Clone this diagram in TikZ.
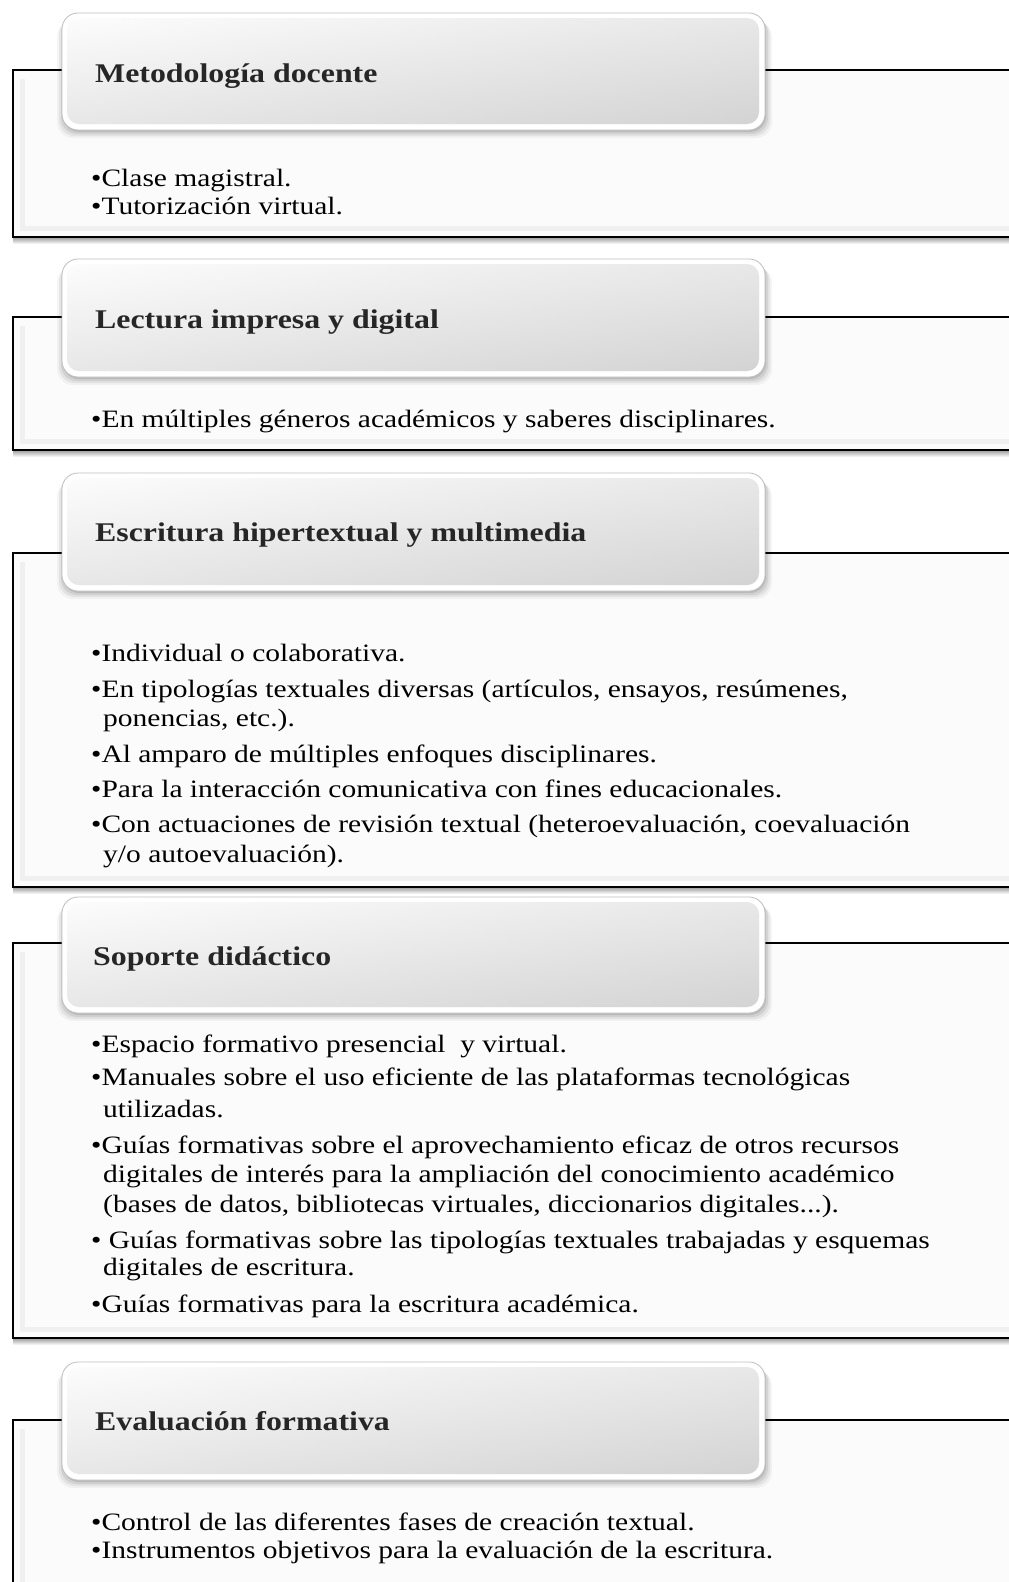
\documentclass[tikz,border=0pt]{standalone}
\usepackage{fontspec}
\setmainfont{Liberation Serif}[FakeStretch=1.18]
\newcommand\mypanel[6]{%
  % #1 panel top, #2 panel bottom, #3 header top, #4 header bottom, #5 name, #6 title baseline
  \fill[gray!3] (13,#1) rectangle (1040,#2);
  \draw[gray!12,line width=5pt] (22,#1+9) -- (22,#2-9) -- (1040,#2-9);
  \shade[top color=black!40,bottom color=white] (13,#2) rectangle (1040,#2+7);
  \draw[line width=2.2pt,line cap=rect] (1040,#1) -- (13,#1) -- (13,#2) -- (1040,#2);
  \foreach \k/\o in {1/0.10,3/0.08,5/0.06,7/0.04}{%
    \fill[black,opacity=\o,rounded corners=16pt] (62-\k+2,#3+\k+1) rectangle (765+\k,#4+\k+1);}
  \draw[gray!50,fill=white,rounded corners=16pt,line width=0.8pt] (62,#3) rectangle (765,#4);
  \shade[rounded corners=12pt,top color=gray!3,bottom color=gray!28] (67,#3+5) rectangle (759,#4-6);
  \shade[rounded corners=12pt,left color=white,right color=gray!45,opacity=0.35] (67,#3+5) rectangle (759,#4-6);
}
\begin{document}
\begin{tikzpicture}[x=1pt,y=-1pt,
  htext/.style={anchor=base west,inner sep=0pt,font=\fontsize{27}{31}\selectfont\bfseries,text=black!85},
  btext/.style={anchor=base west,inner sep=0pt,font=\fontsize{25}{29}\selectfont,text=black}]
\useasboundingbox (0,0) rectangle (1009,1582);
\clip (0,0) rectangle (1009,1582);
\fill[white] (0,0) rectangle (1009,1582);

% Panel 1
\mypanel{70}{237}{13}{130}{p1}{82}
\node[htext] (h1) at (95,82) {Metodología docente};
\node[btext] (b11) at (91,186) {•Clase magistral.};
\node[btext] (b12) at (91,214) {•Tutorización virtual.};

% Panel 2
\mypanel{317}{450}{259}{377}{p2}{328}
\node[htext] (h2) at (95,328) {Lectura impresa y digital};
\node[btext] (b21) at (91,427) {•En múltiples géneros académicos y saberes disciplinares.};

% Panel 3
\mypanel{553}{887}{473}{591}{p3}{541}
\node[htext] (h3) at (95,541) {Escritura hipertextual y multimedia};
\node[btext] (b31) at (91,661) {•Individual o colaborativa.};
\node[btext] (b32) at (91,697) {•En tipologías textuales diversas (artículos, ensayos, resúmenes,};
\node[btext] (b33) at (103,726) {ponencias, etc.).};
\node[btext] (b34) at (91,762) {•Al amparo de múltiples enfoques disciplinares.};
\node[btext] (b35) at (91,797) {•Para la interacción comunicativa con fines educacionales.};
\node[btext] (b36) at (91,832) {•Con actuaciones de revisión textual (heteroevaluación, coevaluación};
\node[btext] (b37) at (103,862) {y/o autoevaluación).};

% Panel 4
\mypanel{943}{1338}{897}{1013}{p4}{965}
\node[htext] (h4) at (93,965) {Soporte didáctico};
\node[btext] (b41) at (91,1052) {•Espacio formativo presencial\ \ y virtual.};
\node[btext] (b42) at (91,1085) {•Manuales sobre el uso eficiente de las plataformas tecnológicas};
\node[btext] (b43) at (103,1117) {utilizadas.};
\node[btext] (b44) at (91,1153) {•Guías formativas sobre el aprovechamiento eficaz de otros recursos};
\node[btext] (b45) at (103,1182) {digitales de interés para la ampliación del conocimiento académico};
\node[btext] (b46) at (103,1212) {(bases de datos, bibliotecas virtuales, diccionarios digitales...).};
\node[btext] (b47) at (91,1248) {• Guías formativas sobre las tipologías textuales trabajadas y esquemas};
\node[btext] (b48) at (103,1275) {digitales de escritura.};
\node[btext] (b49) at (91,1312) {•Guías formativas para la escritura académica.};

% Panel 5
\mypanel{1420}{1620}{1362}{1480}{p5}{1430}
\node[htext] (h5) at (95,1430) {Evaluación formativa};
\node[btext] (b51) at (91,1530) {•Control de las diferentes fases de creación textual.};
\node[btext] (b52) at (91,1558) {•Instrumentos objetivos para la evaluación de la escritura.};
\end{tikzpicture}
\end{document}
